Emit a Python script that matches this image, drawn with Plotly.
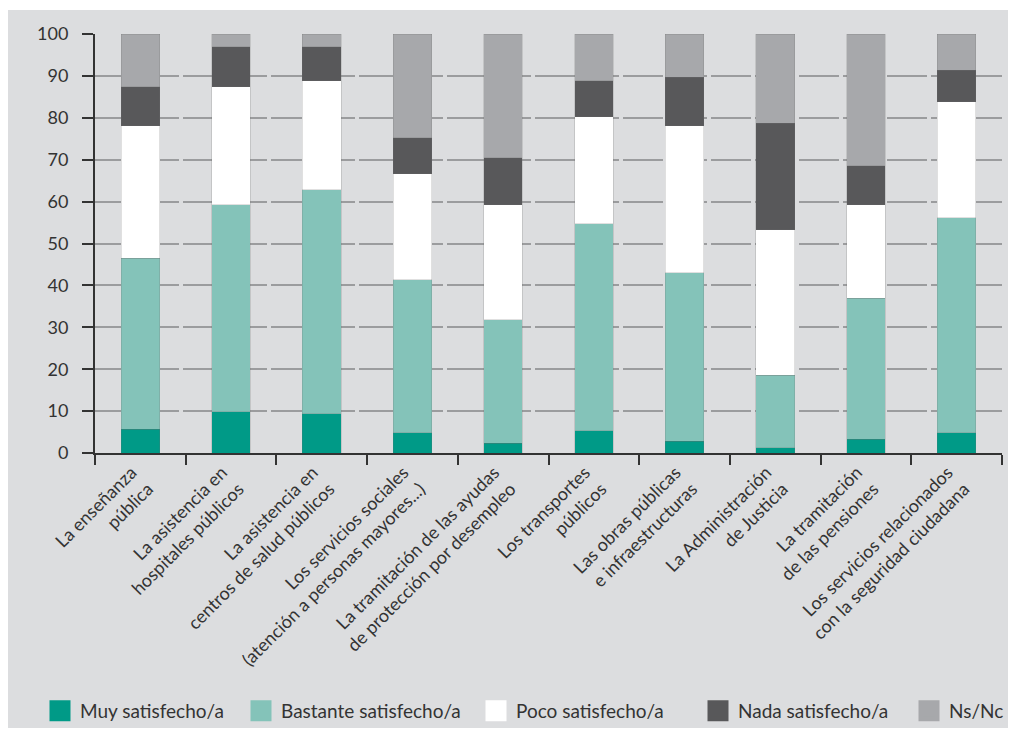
import plotly.graph_objects as go

categories = [
    "La enseñanza<br>pública",
    "La asistencia en<br>hospitales públicos",
    "La asistencia en<br>centros de salud públicos",
    "Los servicios sociales<br>(atención a personas mayores...)",
    "La tramitación de las ayudas<br>de protección por desempleo",
    "Los transportes<br>públicos",
    "Las obras públicas<br>e infraestructuras",
    "La Administración<br>de Justicia",
    "La tramitación<br>de las pensiones",
    "Los servicios relacionados<br>con la seguridad ciudadana",
]
muy = [5.7, 9.8, 9.4, 4.8, 2.3, 5.3, 2.8, 1.2, 3.3, 4.8]
bastante = [40.8, 49.5, 53.4, 36.6, 29.5, 49.4, 40.2, 17.3, 33.6, 51.3]
poco = [31.6, 28.1, 26.1, 25.2, 27.5, 25.5, 35.1, 34.8, 22.4, 27.7]
nada = [9.3, 9.6, 8.1, 8.6, 11.2, 8.7, 11.6, 25.4, 9.3, 7.6]
nsnc = [12.6, 3.0, 3.0, 24.8, 29.5, 11.1, 10.3, 21.3, 31.4, 8.6]

series_names = ["Muy satisfecho/a", "Bastante satisfecho/a", "Poco satisfecho/a",
                "Nada satisfecho/a", "Ns/Nc"]
series_values = [muy, bastante, poco, nada, nsnc]
series_colors = ["#009a87", "#84c3b9", "#ffffff", "#58585a", "#a7a8ab"]
legend_widths = [156, 190, 177, 166, 0]

FONT = "Lato, 'Open Sans', sans-serif"
TXT = "#333333"

fig = go.Figure()
for name, vals, col in zip(series_names, series_values, series_colors):
    fig.add_trace(go.Bar(
        x=categories, y=vals, name=name, showlegend=False, legendgroup=name,
        marker=dict(color=col, line=dict(width=0.6, color="rgba(110,110,110,0.35)")),
    ))
# legend entries (larger square swatches)
for name, col, lw in zip(series_names, series_colors, legend_widths):
    fig.add_trace(go.Scatter(
        x=[None], y=[None], mode="markers", name=name, legendgroup=name,
        legendwidth=lw,
        marker=dict(symbol="square", size=16, color=col, line=dict(width=5, color=col)),
    ))

# page body has an 8px margin, so figure pixel = screen pixel - 8
OFF = 8
W, H = 1016 - OFF, 735 - OFF
L, R, T, B = 95 - OFF, 14, 34 - OFF, 282
pw, ph = W - L - R, H - T - B

def px_x(x):
    return (x - OFF - L) / pw

def px_y(y):
    return (H - B - (y - OFF)) / ph

fig.add_shape(type="rect", xref="paper", yref="paper",
              x0=px_x(6), x1=px_x(1030), y0=px_y(728), y1=px_y(10),
              fillcolor="#dcdddf", line=dict(width=0), layer="below")

fig.update_layout(
    width=W, height=H,
    margin=dict(l=L, r=R, t=T, b=B, autoexpand=False),
    barmode="stack", bargap=0.575,
    paper_bgcolor="#ffffff", plot_bgcolor="rgba(0,0,0,0)",
    font=dict(family=FONT, color=TXT),
    showlegend=True,
    legend=dict(orientation="h", x=px_x(40), xanchor="left",
                y=px_y(711), yanchor="middle", traceorder="normal",
                font=dict(size=19, color=TXT), bgcolor="rgba(0,0,0,0)"),
    xaxis=dict(type="category", tickson="boundaries", ticks="outside", ticklen=10,
               tickwidth=2, tickcolor="#333333", showline=True, linecolor="#333333",
               linewidth=2, tickangle=-45, tickfont=dict(size=18, color=TXT),
               ticklabelshift=-9, showgrid=False),
    yaxis=dict(range=[0, 100], dtick=10, ticks="outside", ticklen=11, tickwidth=2,
               tickcolor="#333333", showline=True, linecolor="#333333", linewidth=2,
               showgrid=True, gridcolor="#9b9c9e", gridwidth=1.5, griddash="40px,4px",
               zeroline=False, ticklabelstandoff=10, tickfont=dict(size=18, color=TXT)),
)

fig.write_html("out.html")
